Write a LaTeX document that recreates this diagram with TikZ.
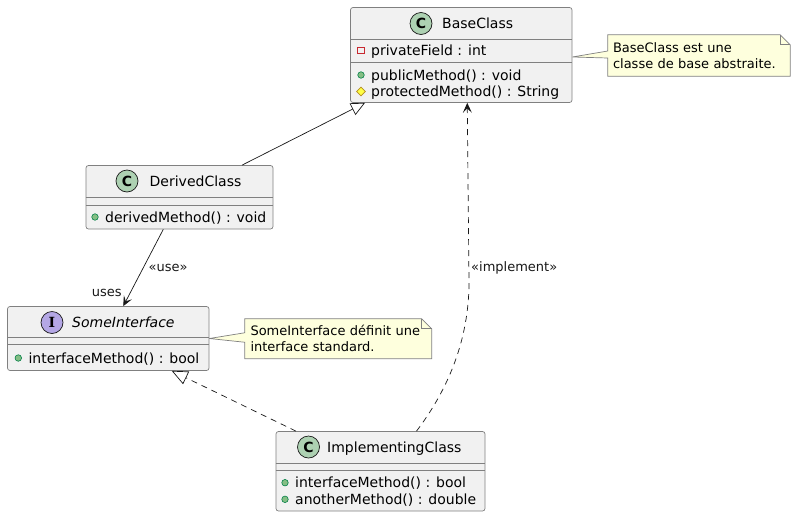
\documentclass[tikz,border=0pt]{standalone}
\usepackage{fontspec}
\setmainfont{DejaVu Sans}
\newfontfamily\iconserif{DejaVu Serif}
\usepackage{tikz}
\usetikzlibrary{arrows.meta,shapes,positioning,calc,backgrounds}
\usepackage{xcolor}
\definecolor{umlfill}{RGB}{241,241,241}
\definecolor{umlline}{RGB}{24,24,24}
\definecolor{umlgreen}{RGB}{173,209,178}
\definecolor{umlpurple}{RGB}{180,167,229}
\definecolor{notefill}{RGB}{254,255,221}
\definecolor{privred}{RGB}{200,41,48}
\definecolor{publine}{RGB}{3,128,72}
\definecolor{pubfill}{RGB}{132,190,132}
\definecolor{protline}{RGB}{179,141,34}
\definecolor{protfill}{RGB}{255,255,68}
\tikzstyle{classbox} = [rectangle, rounded corners=2.5pt, draw=umlline!55, fill=umlfill, line width=0.7pt, inner sep=0pt]
\tikzstyle{sepline} = [draw=umlline!55, line width=0.7pt]
\tikzstyle{classicon} = [circle, draw=umlline, line width=0.7pt, minimum size=22pt, inner sep=0pt, font=\fontsize{14}{14}\selectfont\bfseries]
\tikzstyle{classname} = [anchor=base west, inner sep=0pt, font=\fontsize{14}{16}\selectfont]
\tikzstyle{member} = [anchor=base west, inner sep=0pt, font=\fontsize{14}{16}\selectfont]
\tikzstyle{privicon} = [rectangle, draw=privred, line width=0.7pt, minimum size=6.5pt, inner sep=0pt]
\tikzstyle{pubicon} = [circle, draw=publine, fill=pubfill, line width=0.6pt, minimum size=6.5pt, inner sep=0pt]
\tikzstyle{proticon} = [diamond, draw=protline, fill=protfill, line width=0.6pt, minimum size=9pt, inner sep=0pt]
\tikzstyle{notebox} = [rectangle, inner ysep=0pt, align=left, font=\fontsize{13}{16}\selectfont]
\tikzstyle{noteline} = [draw=umlline!55, fill=notefill, line width=0.7pt]
\tikzstyle{link} = [line width=0.7pt, color=umlline]
\tikzstyle{arrowlabel} = [inner sep=0pt, font=\fontsize{13}{15}\selectfont]
\tikzstyle{openhead} = [-{Stealth[length=10pt,width=9pt,inset=4.5pt]}]
\tikzstyle{hollowhead} = [-{Triangle[open,length=14pt,width=13pt]}]

\begin{document}
\begin{tikzpicture}[x=1pt, y=-1pt]
\useasboundingbox (0,0) rectangle (794,517);

% BaseClass
\node[classbox, minimum width=221.5pt, minimum height=95pt] (base) at (461.25,55) {};
\draw[sepline] ([yshift=-32.5pt]base.north west) -- ([yshift=-32.5pt]base.north east);
\draw[sepline] ([yshift=-55pt]base.north west) -- ([yshift=-55pt]base.north east);
\node[classicon, fill=umlgreen] (baseicon) at (421,23.5) {C};
\node[classname] (basename) at (442,28.5) {BaseClass};
\node[privicon] (baseprivicon) at (361,50.5) {};
\node[member] (basepriv) at (371,55.5) {privateField : int};
\node[pubicon] (basepubicon) at (361,75) {};
\node[member] (basepub) at (371,80) {publicMethod() : void};
\node[proticon] (baseproticon) at (361,91.5) {};
\node[member] (baseprot) at (371,96.5) {protectedMethod() : String};

% note on BaseClass
\node[notebox, minimum width=182pt, minimum height=41pt, text width=172pt, inner xsep=5pt] (basenote) at (699,55.5) {BaseClass est une\\classe de base abstraite.};

% DerivedClass
\node[classbox, minimum width=187pt, minimum height=63.5pt] (derived) at (179.5,197.25) {};
\draw[sepline] ([yshift=-31.8pt]derived.north west) -- ([yshift=-31.8pt]derived.north east);
\draw[sepline] ([yshift=-40pt]derived.north west) -- ([yshift=-40pt]derived.north east);
\node[classicon, fill=umlgreen] (derivedicon) at (127,181) {C};
\node[classname] (derivedname) at (149.5,186) {DerivedClass};
\node[pubicon] (derivedpubicon) at (95,217) {};
\node[member] (derivedpub) at (105,222) {derivedMethod() : void};

% SomeInterface
\node[classbox, minimum width=201.5pt, minimum height=64pt] (iface) at (108.25,338.5) {};
\draw[sepline] ([yshift=-31pt]iface.north west) -- ([yshift=-31pt]iface.north east);
\draw[sepline] ([yshift=-38.5pt]iface.north west) -- ([yshift=-38.5pt]iface.north east);
\node[classicon, fill=umlpurple, font=\fontsize{14}{14}\selectfont\iconserif\bfseries] (ifaceicon) at (52,322.5) {I};
\node[classname, font=\fontsize{14}{16}\selectfont\itshape] (ifacename) at (72,327.5) {SomeInterface};
\node[pubicon] (ifacepubicon) at (18.3,358) {};
\node[member] (ifacepub) at (28.3,363) {interfaceMethod() : bool};

% note on SomeInterface
\node[notebox, minimum width=186.5pt, minimum height=39.5pt, text width=175.5pt, inner xsep=5.5pt] (ifacenote) at (338.25,338.75) {SomeInterface définit une\\interface standard.};

% ImplementingClass
\node[classbox, minimum width=209pt, minimum height=79.5pt] (impl) at (380.5,471.25) {};
\draw[sepline] ([yshift=-31.8pt]impl.north west) -- ([yshift=-31.8pt]impl.north east);
\draw[sepline] ([yshift=-39.2pt]impl.north west) -- ([yshift=-39.2pt]impl.north east);
\node[classicon, fill=umlgreen] (implicon) at (308.5,447) {C};
\node[classname] (implname) at (327,452) {ImplementingClass};
\node[pubicon] (implpubicon) at (285,482.7) {};
\node[member] (implpub) at (295,487.7) {interfaceMethod() : bool};
\node[pubicon] (implpub2icon) at (285,499.3) {};
\node[member] (implpub2) at (295,504.3) {anotherMethod() : double};

% note shapes
\begin{scope}[on background layer]
\draw[noteline] (basenote.north west) -- ([xshift=-10pt]basenote.north east) -- ([yshift=-10pt]basenote.north east) -- (basenote.south east) -- (basenote.south west) -- ([yshift=-2.5pt]basenote.west) -- ([yshift=-2pt]base.east) -- ([yshift=4.5pt]basenote.west) -- cycle;
\draw[noteline, fill=none] ([xshift=-10pt]basenote.north east) -- ++(0pt,-10pt) -- ++(10pt,0pt);
\draw[noteline] (ifacenote.north west) -- ([xshift=-10pt]ifacenote.north east) -- ([yshift=-10pt]ifacenote.north east) -- (ifacenote.south east) -- (ifacenote.south west) -- ([yshift=-3.5pt]ifacenote.west) -- (iface.east) -- ([yshift=6pt]ifacenote.west) -- cycle;
\draw[noteline, fill=none] ([xshift=-10pt]ifacenote.north east) -- ++(0pt,-10pt) -- ++(10pt,0pt);
\end{scope}

% Arrows
\draw[link, hollowhead] ([xshift=62.5pt]derived.north) -- ([xshift=-96.25pt]base.south);
\draw[link, openhead] ([xshift=-16.2pt]derived.south) -- ([xshift=15pt]iface.north)
  node[arrowlabel, pos=0.5, right=5pt] (uselabel) {«use»}
  node[arrowlabel, pos=0.83, left=8pt] (useslabel) {uses};
\draw[link, dash pattern=on 6pt off 5pt, -{Triangle[open,length=16pt,width=14pt]}] ([xshift=-84.5pt]impl.north) -- ([xshift=63.5pt]iface.south);
\coordinate (bend) at (469,282);
\draw[link, dash pattern=on 6pt off 5pt, openhead] ([xshift=36pt]impl.north) .. controls (440,400) and (469,350) .. (bend)
  -- node[arrowlabel, pos=0.08, right=2pt] (impllabel) {«implement»} ([xshift=6pt]base.south);
\end{tikzpicture}
\end{document}
